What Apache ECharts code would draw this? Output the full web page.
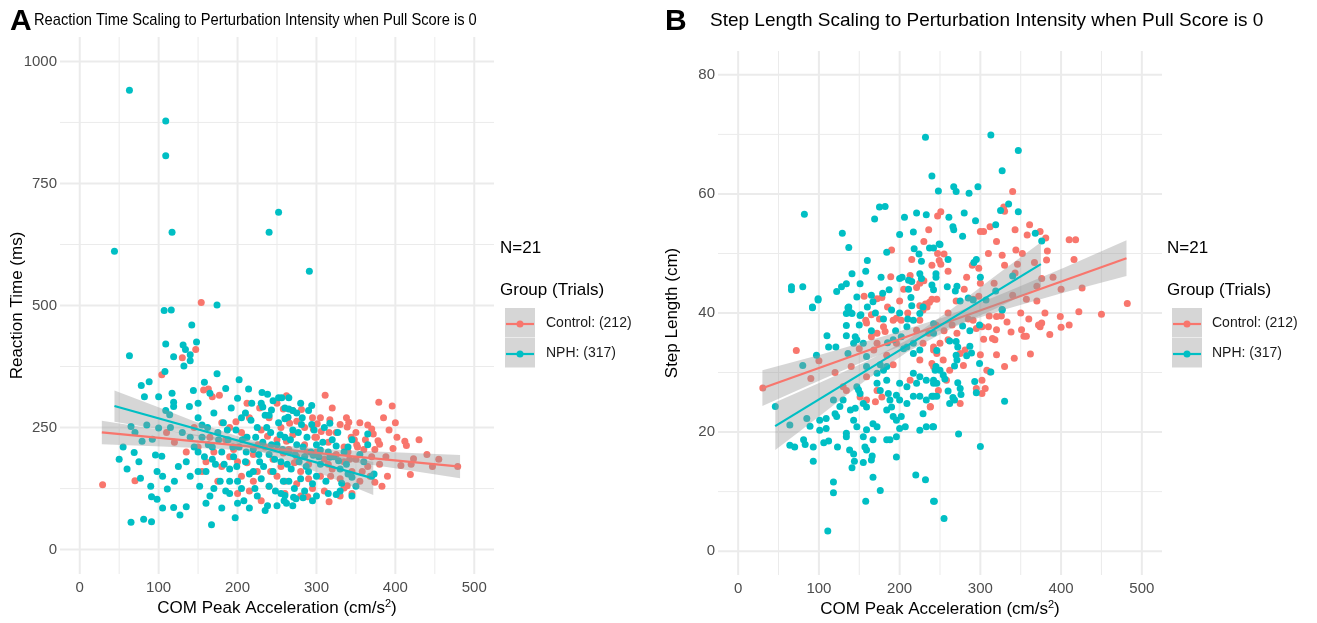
<!DOCTYPE html>
<html><head><meta charset="utf-8">
<script src="https://cdn.jsdelivr.net/npm/echarts@6/dist/echarts.min.js"></script>
<style>html,body{margin:0;padding:0;background:#fff}#c{width:1317px;height:623px}</style>
</head><body><div id="c"></div>
<script>
// ---------- tick labels / gridlines ----------
const xTicks = [0, 100, 200, 300, 400, 500];
const xMinor = [50, 150, 250, 350, 450];
const yTicksA = [0, 250, 500, 750, 1000];
const yMinorA = [125, 375, 625, 875];
const yTicksB = [0, 20, 40, 60, 80];
const yMinorB = [10, 30, 50, 70];
const groups = ['Control: (212)', 'NPH: (317)'];
const colors = ['#F8766D', '#00BFC4'];

// ---------- Panel A: reaction time (ms) ----------
const ctrlRT = [[29,133],[70,141],[104,358],[130,393],[147,410],[154,506],[157,327],[163,329],[168,313],[177,316],
[311,316],[379,302],[396,294],[355,260],[338,270],[341,261],[339,251],[330,256],[317,266],[306,242],[316,240],[301,258],[296,247],[298,230],[344,230],[348,225],[351,215],[352,210],[370,247],[372,237],[378,223],[380,216],[374,205],[397,207],[412,222],[414,213],[423,186],[407,172],[419,154],[447,170],[479,170],[374,138],[383,130],[339,131],[335,126],[316,98],[289,108],[258,288],[281,287],[266,259],[275,263],
[185,225],[190,250],[195,205],[200,180],[205,150],[210,230],[215,270],[220,195],[225,160],[230,245],[235,210],[240,130],[245,185],[250,225],[255,170],[260,140],[265,205],[270,235],[275,190],[280,160],[285,215],[290,175],[295,125],[300,200],[305,150],[310,185],[315,220],[320,165],[325,195],[330,145],[335,180],[340,200],[345,160],[350,185],[355,140],[360,205],[365,170],[370,190],[240,270],[250,300],[228,290],[212,300],[262,315],[285,250],[295,270],[320,290],[180,170],[175,140],[160,180],[165,230],[150,210],[155,160],[145,250],[120,220],[110,240],[135,200],[200,115],[215,120],[230,100],[260,115],[275,135],[310,120],[330,110],[345,115],[358,160],[388,190],[392,245],[402,230],[362,225],[325,240],[305,270],[288,200],[272,178],[258,198],[242,160],[226,215],[205,240],[190,190],[180,260],[170,200],[255,250],[270,285],[300,230],[315,175],[335,210],[350,240],[365,255],[385,270],[400,260],[420,175],[440,195],[455,185],[430,225],[390,150],[280,110],[250,150],[220,140],[198,262],[212,178],[238,232],[262,222],[290,145],[318,150],[342,185],[368,150],[380,175]];
const nphRT = [[63,941],[109,878],[109,807],[117,650],[240,650],[252,691],[44,611],[174,501],[107,490],[116,491],[291,570],[142,460],[109,421],[131,419],[134,410],[140,399],[140,387],[132,376],[148,425],[119,395],[63,397],[108,365],[78,336],[88,344],[82,313],[100,313],[117,320],[119,302],[119,293],[109,285],[114,276],[139,293],[144,326],[158,343],[174,360],[202,348],[214,329],[231,322],[238,318],[232,292],[243,286],[240,275],[252,311],
[65,56],[81,62],[91,57],[105,85],[119,86],[127,71],[135,88],[91,108],[98,103],[111,124],[167,51],[197,65],[69,199],[65,252],[77,146],[79,222],[92,226],[100,249],[96,194],[104,191],
[256,311],[265,311],[294,295],[265,288],[270,285],[260,268],[264,271],[281,256],[294,256],[317,259],[365,237],[325,212],[305,204],[296,193],[317,189],[328,182],[338,175],[345,148],[373,155],[332,136],[325,113],[345,110],[295,100],[283,106],[274,104],[271,107],[260,111],[259,100],
[130,240],[135,180],[140,150],[145,210],[150,270],[152,130],[155,230],[158,190],[160,160],[162,250],[165,110],[168,210],[170,280],[172,175],[175,240],[178,140],[180,200],[182,260],[185,120],[188,225],[190,165],[192,290],[195,190],[198,245],[200,140],[202,210],[205,270],[208,100],[210,180],[212,230],[215,155],[218,300],[220,205],[222,125],[225,250],[228,180],[230,145],[232,220],[235,275],[238,90],[240,195],[242,240],[245,160],[248,120],[250,215],[252,260],[255,180],[258,140],[260,230],[262,95],[265,200],[268,165],[270,245],[272,125],[275,215],[278,180],[280,145],[282,270],[285,190],[288,230],[290,160],[295,135],[300,215],[305,175],[310,250],[312,140],[320,225],[330,165],[340,210],[350,130],[360,180],[370,150],[300,110],[290,285],[280,300],[270,90],[250,90],[235,80],[225,110],[215,85],[200,95],[190,115],[180,85],[170,125],[160,95],[150,160],[140,230],[125,170],[120,140],[115,250],[105,150],[98,160],[90,130],[85,255],[75,180],[70,240],[60,165],[55,210],[50,185],
[150,200],[155,255],[163,215],[168,185],[176,225],[183,175],[187,245],[194,210],[199,170],[206,225],[211,200],[217,265],[223,230],[227,195],[233,170],[237,250],[243,215],[247,185],[254,235],[257,205],[263,175],[267,225],[273,195],[277,240],[283,210],[287,170],[293,200],[297,245],[303,190],[308,220],[315,200],[322,190],[327,240],[335,200],[345,225],[355,195],[365,215],[150,300],[165,320],[185,330],[200,310],[210,280],[230,300],[245,305],[260,290],[275,280],[190,140],[205,125],[220,160],[240,130],[255,115],[265,140],[285,120],[300,150],[315,115],[330,120],[340,155]];
// fitted lines and confidence bands
const ctrlRTLine = [[28,240],[482,170]];
const nphRTLine = [[44,294],[372,146]];
const ctrlRTBandX = [28,104,180,255,330,406,482];
const ctrlRTBandLo = [216,211,206,197,183,165,146];
const ctrlRTBandHi = [264,245,228,213,204,199,194];
const nphRTBandX = [44,99,153,208,263,317,372];
const nphRTBandLo = [262,247,231,212,182,148,112];
const nphRTBandHi = [326,292,258,228,209,194,180];

// ---------- Panel B: step length (cm) ----------
const ctrlSL = [[30.5,27.4],[72,33.7],[190,50.6],[247,56.3],[189,46.1],[213,46.3],[221,44.3],[225,45],[230,45.4],[156,42.8],[172,42.4],[178,42.6],[225,41.2],[232,41.5],[237,41.8],[229,40.5],[240,42.3],[246,42.3],[340,60.4],[329,57.8],[330,57.1],[251,57],[312,54.5],[300,53.7],[304,53.7],[343,54],[361,54.8],[358,53.1],[374,53.7],[381,52.6],[410,52.3],[418,52.3],[383,50.4],[382,48.9],[416,49],[426,44.2],[482,41.6],[399,39.4],[422,40.2],[450,39.8],[344,50.6],[352,50],[327,49.7],[346,48.2],[367,48.5],[376,45.8],[370,44.5],[357,42.3],[343,46.7],[317,45],[298,42.8],[291,42.3],[298,47.5],[255,49.9],[247,50],[249,48.8],[251,48.2],[260,47],[283,46],
[400,37.6],[386,36.4],[376,38.3],[374,37.7],[372,38],[354,36.1],[351,37.2],[357,36.1],[362,33.1],[342,32.4],[338,36.8],[333,38.5],[320,37.2],[315,35.7],[318,35.5],[326,39.5],[320,39.4],[311,39.5],[304,35.6],[310,37.7],[302,37.7],[295,37.4],[291,38.8],[308,30.4],[312,30.1],[302,28.7],[306,27.3],[302,26.5],[295,27.3],[275,24.8],[262,30.4],[258,28.7],[248,27],[238,24.3],[279,31.2],[275,33.2],[281,33.8],[246,33.2],[250,34.9],[242,34.3],[260,35.5],[271,36.6],[240,31.5],[254,32.1],
[158,38.8],[165,39.7],[159,38.3],[172,36.6],[180,37.7],[182,36.9],[192,38.8],[196,39.1],[202,38.8],[196,34.9],[172,34.9],[168,33.8],[184,32.9],[192,31.3],[134,27],[130,27.6],[151,25.9],[159,25.4],[172,27],[170,25.1],[178,25.9],[159,29.3],[213,28.7],[225,32.1],[238,24.2],[229,34.9],[221,37.1],[236,36.6],[225,38.8],[234,41],[242,33.8],[242,31],
[205,44],[215,49],[230,52],[236,54],[240,48],[210,40],[200,42],[185,41],[175,39],[165,36],[150,34],[140,31],[120,30],[100,32],[90,29],[260,40],[270,42],[280,44],[290,48],[300,45],[310,50],[320,52],[330,48],[340,43],[350,40],[360,39],[370,42],[380,40],[390,46],[400,44],[410,38],[300,33],[320,33],[330,31],[265,38],[285,39],[245,38],[255,37]];
const nphSL = [[232,69.5],[240,63],[248,60.5],[82,56.6],[175,57.8],[182,57.9],[169,55.8],[206,56.1],[221,56.8],[233,56.5],[217,53.6],[200,53.2],[129,53.4],[137,51],[218,50.8],[224,49.9],[227,48.7],[237,50.9],[242,50.9],[249,51.6],[184,50.2],[160,48.8],[158,47],[141,46.6],[128,44.4],[134,44.9],[122,43.6],[151,44.9],[177,46],[200,45.8],[203,46],[211,45.5],[215,45.3],[225,46.6],[227,45.8],[245,46.6],[66,44.4],[80,44.4],[66,43.9],[99,42.4],[92,40.9],[147,42.7],[165,43],[167,41.9],[179,43.3],[187,43.9],[211,44],[214,42.6],[215,41.2],[240,44.7],[242,43.9],[136,40.9],[139,40.1],[151,39.6],
[313,69.9],[347,67.3],[327,63.9],[267,61.2],[270,60.4],[286,60.1],[297,61.2],[335,58.3],[325,57.2],[347,57],[261,56.1],[280,56.8],[294,55.5],[266,54.5],[267,54],[278,52.9],[319,54.8],[368,53.4],[376,52.1],[340,46.2],[319,43.7],[327,40.5],[307,42.2],[291,42.2],[250,51.5],[292,48.5],[245,46],[259,44.4],[269,43.7],[271,44.5],[275,42],[285,42.5],[300,46],[295,49],[260,49],
[111,3.4],[158,8.4],[118,9.8],[118,11.6],[176,10.2],[220,12.8],[232,12],[242,8.4],[167,12.4],[141,14],[144,15.1],[155,14.9],[165,15.3],[166,16],[196,15.8],[93,15.1],[138,17],[143,16.3],[123,17.5],[64,17.8],[70,17.5],[83,17.9],[93,17.5],[106,18.2],[112,18.5],[81,18.7],[89,21],[101,20.3],[109,20.6],[101,22],[109,22.3],[46,24.3],[64,21.2],[85,22.3],[80,31.2],[97,32.9],[110,36.2],[112,34.3],[121,34.3],[134,37.9],[134,36.2],[136,33.2],[134,39.9],[137,41],[141,39.9],[92,41],[99,42.2],[152,39.7],
[327,40.6],[299,38],[287,37],[278,37.8],[270,35.2],[272,34.3],[287,34.4],[289,33.3],[283,32.8],[270,32.9],[271,32.1],[268,31.1],[299,31.5],[313,30.1],[293,28.5],[295,26.6],[272,28.3],[275,27.3],[276,26.3],[260,26.9],[266,25.8],[268,25.4],[262,24.8],[246,28.2],[242,28.7],[240,26],[246,26],[330,25.2],[245,31],[250,30.4],[254,29.6],[256,28.9],[244,30.4],[246,33.7],[262,35.3],[241,20.9],[273,19.7],[300,17.6],[243,8.4],[255,5.5],
[143,34.9],[147,35.5],[155,34.9],[159,32.7],[159,31],[172,29.9],[176,31.3],[180,30.4],[184,28.7],[186,26.5],[188,25.4],[190,24.2],[184,23.7],[192,22.6],[196,22],[202,22.6],[207,20.9],[200,20.6],[196,19.2],[188,18.7],[184,18.7],[172,20.9],[167,21.4],[159,20.4],[155,19.2],[157,17.5],[167,18.7],[147,20.9],[143,22],[139,23.7],[145,24],[155,24.8],[159,24.2],[151,26.5],[149,27.1],[147,27.6],[130,25.4],[126,24.3],[122,22.6],[120,23.1],[118,25.4],[134,19.8],[134,19.2],[159,17],[200,28.2],[209,27.6],[217,26],[225,26],[233,25.4],[242,26],[229,23.1],[225,20.3],[233,20.9],[242,20.9],[209,24.8],[200,25.4],[221,28.2],[225,29.3],[233,28.7],[242,28.2],[217,29.9],[225,33.8],[209,34.3],[217,33.2],[192,35.5],[202,36],[209,37.7],[217,38.8],[225,39.9],[229,41],[242,38.2],[242,36.6],[217,34.9],[184,31],[172,28.2],[176,27],[196,26.2],
[170,40],[180,39],[190,40.5],[200,40],[210,39],[160,41],[150,38],[145,36],[165,37],[195,37],[205,34],[185,35]];
const ctrlSLLine = [[30.6,27.4],[481,49.2]];
const nphSLLine = [[45.8,21.0],[375,48.2]];
const ctrlSLBandX = [30,105,180,255,330,405,481];
const ctrlSLBandLo = [24.4,28.9,33.3,37.3,40.6,43.5,46.2];
const ctrlSLBandHi = [30.4,33.1,36.1,39.3,43.4,47.7,52.2];
const nphSLBandX = [46,101,156,210,265,320,375];
const nphSLBandLo = [17.0,22.7,28.5,33.5,37.5,40.8,44.5];
const nphSLBandHi = [25.0,28.3,31.7,35.5,40.7,46.4,51.9];

// ---------- helpers ----------
const FONT = 'Liberation Sans, Arial, Helvetica, sans-serif';
function gridSeries(idx, xMaj, xMin, yMaj, yMin) {
  return {
    type: 'custom', xAxisIndex: idx, yAxisIndex: idx, z: 0, silent: true,
    data: [[xMaj[0], yMaj[0]]],
    renderItem: function (params, api) {
      const cs = params.coordSys, ch = [];
      const add = (vals, isX, w) => vals.forEach(v => {
        const p = api.coord(isX ? [v, yMaj[0]] : [xMaj[0], v]);
        ch.push({type: 'line', shape: isX ? {x1: p[0], y1: cs.y, x2: p[0], y2: cs.y + cs.height}
                                          : {x1: cs.x, y1: p[1], x2: cs.x + cs.width, y2: p[1]},
                 style: {stroke: '#ebebeb', lineWidth: w}});
      });
      add(xMin, true, 1); add(yMin, false, 1); add(xMaj, true, 2); add(yMaj, false, 2);
      return {type: 'group', children: ch};
    }
  };
}
function bandSeries(idx, bx, lo, hi, z) {
  return {
    type: 'custom', xAxisIndex: idx, yAxisIndex: idx, z: z, silent: true,
    data: [[bx[0], lo[0]]],
    renderItem: function (params, api) {
      const pts = [];
      for (let i = 0; i < bx.length; i++) pts.push(api.coord([bx[i], hi[i]]));
      for (let i = bx.length - 1; i >= 0; i--) pts.push(api.coord([bx[i], lo[i]]));
      return {type: 'polygon', shape: {points: pts}, style: {fill: 'rgba(153,153,153,0.4)'}};
    }
  };
}
function scatter(idx, data, c, z) {
  return {type: 'scatter', xAxisIndex: idx, yAxisIndex: idx, data: data, symbolSize: 7, z: z,
          itemStyle: {color: c, opacity: 1}, silent: true};
}
function fit(idx, data, c, z) {
  return {type: 'line', xAxisIndex: idx, yAxisIndex: idx, data: data, showSymbol: false, z: z,
          lineStyle: {color: c, width: 2.2}, silent: true};
}
function xAx(idx) {
  return {type: 'value', gridIndex: idx, min: -25, max: 525,
    axisLine: {show: false}, axisTick: {show: false}, splitLine: {show: false},
    axisLabel: {customValues: xTicks, formatter: v => String(v), color: '#4d4d4d', fontSize: 15, fontFamily: FONT, margin: 6},
    name: 'COM Peak Acceleration (cm/s{sup|2})', nameLocation: 'middle', nameGap: 24, nameMoveOverlap: false,
    nameTextStyle: {color: '#000', fontSize: 17, fontFamily: FONT,
      rich: {sup: {fontSize: 11, fontFamily: FONT, color: '#000', padding: [0, 0, 10, 0]}}}};
}
function yAx(idx, mn, mx, ticks, name, gap) {
  return {type: 'value', gridIndex: idx, min: mn, max: mx,
    axisLine: {show: false}, axisTick: {show: false}, splitLine: {show: false},
    axisLabel: {customValues: ticks, formatter: v => String(v), color: '#4d4d4d', fontSize: 15, fontFamily: FONT, margin: 3},
    name: name, nameLocation: 'middle', nameGap: gap, nameMoveOverlap: false,
    nameTextStyle: {color: '#000', fontSize: 17, fontFamily: FONT}};
}
function legend(x0, tx) {
  const els = [
    {type: 'text', left: x0, top: 240, style: {text: 'N=21', fontSize: 17, fontFamily: FONT, fill: '#000'}},
    {type: 'text', left: x0, top: 282, style: {text: 'Group (Trials)', fontSize: 17, fontFamily: FONT, fill: '#000'}}
  ];
  for (let i = 0; i < groups.length; i++) {
    const y = 308 + i * 30;
    els.push({type: 'rect', shape: {x: x0 + 5, y: y, width: 30, height: 29.5}, style: {fill: '#d6d6d6'}});
    els.push({type: 'line', shape: {x1: x0 + 6, y1: y + 16, x2: x0 + 34, y2: y + 16}, style: {stroke: colors[i], lineWidth: 2.2}});
    els.push({type: 'circle', shape: {cx: x0 + 20, cy: y + 16, r: 3.5}, style: {fill: colors[i]}});
    els.push({type: 'text', left: tx, top: y + 8, style: {text: groups[i], fontSize: 14, fontFamily: FONT, fill: '#1a1a1a'}});
  }
  return els;
}

const titles = [
  {type: 'text', x: 10, y: 7, style: {text: 'A', fontSize: 30, fontWeight: 'bold', fontFamily: FONT, fill: '#000'}},
  {type: 'text', x: 34, y: 12, scaleX: 0.864, style: {text: 'Reaction Time Scaling to Perturbation Intensity when Pull Score is 0', fontSize: 17, fontFamily: FONT, fill: '#000'}},
  {type: 'text', x: 665, y: 7, style: {text: 'B', fontSize: 30, fontWeight: 'bold', fontFamily: FONT, fill: '#000'}},
  {type: 'text', x: 710, y: 11, style: {text: 'Step Length Scaling to Perturbation Intensity when Pull Score is 0', fontSize: 19, fontFamily: FONT, fill: '#000'}}
];

const chart = echarts.init(document.getElementById('c'), null, {renderer: 'canvas'});
chart.setOption({
  backgroundColor: '#fff',
  animation: false,
  grid: [
    {left: 60, top: 37, width: 434, height: 537},
    {left: 718, top: 51, width: 444, height: 524}
  ],
  xAxis: [xAx(0), xAx(1)],
  yAxis: [yAx(0, -50, 1050, yTicksA, 'Reaction Time (ms)', 34), yAx(1, -4, 84, yTicksB, 'Step Length (cm)', 37)],
  series: [
    gridSeries(0, xTicks, xMinor, yTicksA, yMinorA),
    gridSeries(1, xTicks, xMinor, yTicksB, yMinorB),
    scatter(0, ctrlRT, colors[0], 2), scatter(0, nphRT, colors[1], 3),
    scatter(1, ctrlSL, colors[0], 2), scatter(1, nphSL, colors[1], 3),
    bandSeries(0, ctrlRTBandX, ctrlRTBandLo, ctrlRTBandHi, 4), fit(0, ctrlRTLine, colors[0], 5),
    bandSeries(0, nphRTBandX, nphRTBandLo, nphRTBandHi, 6), fit(0, nphRTLine, colors[1], 7),
    bandSeries(1, ctrlSLBandX, ctrlSLBandLo, ctrlSLBandHi, 4), fit(1, ctrlSLLine, colors[0], 5),
    bandSeries(1, nphSLBandX, nphSLBandLo, nphSLBandHi, 6), fit(1, nphSLLine, colors[1], 7)
  ],
  graphic: titles.concat(legend(500, 546)).concat(legend(1167, 1212))
});
</script></body></html>
